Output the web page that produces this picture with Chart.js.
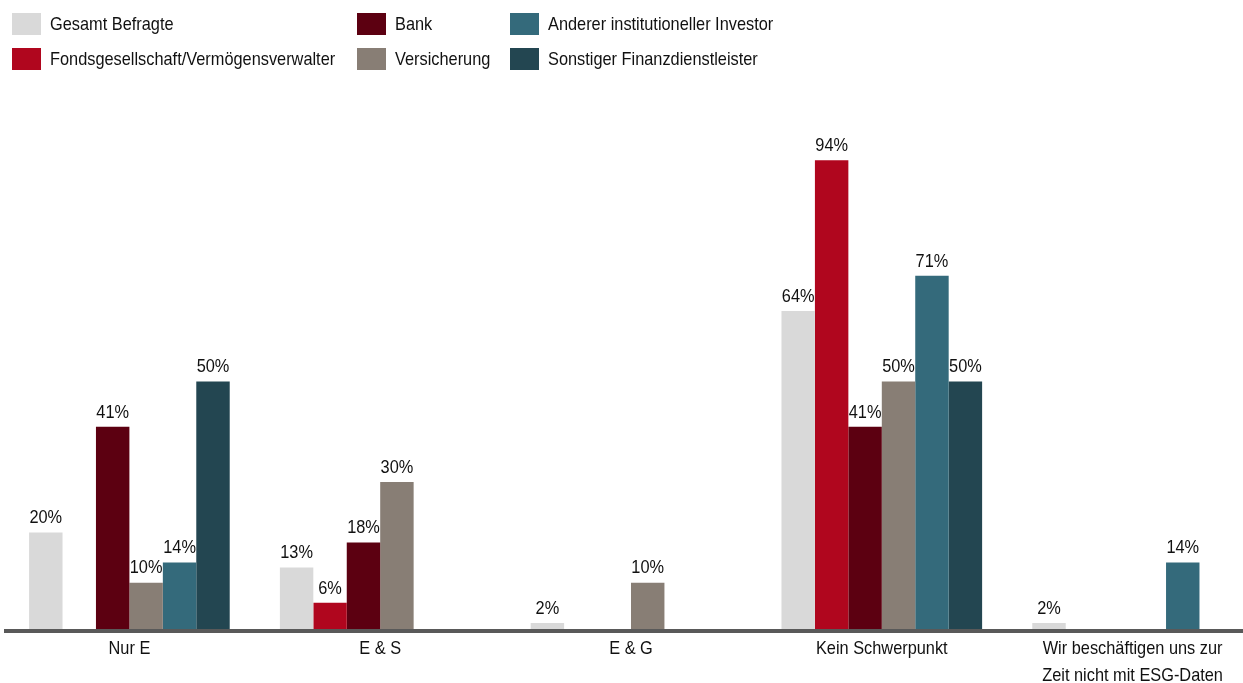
<!DOCTYPE html>
<html>
<head>
<meta charset="utf-8">
<script src="https://cdn.jsdelivr.net/npm/chart.js@4/dist/chart.umd.min.js"></script>
<style>
  html, body { margin: 0; padding: 0; background: #fff; overflow: hidden; width: 1243px; height: 683px; }
  #wrap { position: absolute; left: 0; top: 0; width: 1258px; height: 683px; }
  .legend { position: absolute; left: 0; top: 0; font-family: "Liberation Sans", Arial, sans-serif; font-size: 19px; color: #111; }
  .item { position: absolute; display: flex; align-items: center; white-space: nowrap; }
  .sw { width: 29px; height: 22px; margin-right: 9px; flex: none; }
  .item span { display: inline-block; transform: scaleX(0.86); transform-origin: left center; }
</style>
</head>
<body>
<div id="wrap"><canvas id="chart"></canvas></div>
<div class="legend" id="legend"></div>
<script>
// categories and series values (percent)
const categories = ["Nur E", "E & S", "E & G", "Kein Schwerpunkt", ["Wir beschäftigen uns zur", "Zeit nicht mit ESG-Daten"]];
const seriesNames = ["Gesamt Befragte", "Fondsgesellschaft/Vermögensverwalter", "Bank", "Versicherung", "Anderer institutioneller Investor", "Sonstiger Finanzdienstleister"];
const gesamt = [20, 13, 2, 64, 2];
const fonds = [null, 6, null, 94, null];
const bank = [41, 18, null, 41, null];
const versicherung = [10, 30, 10, 50, null];
const anderer = [14, null, null, 71, 14];
const sonstiger = [50, null, null, 50, null];
const colors = ["#d9d9d9", "#b0061e", "#5c0011", "#887e75", "#346a7b", "#234651"];

const FONT = '"Liberation Sans", Arial, sans-serif';
const SQUEEZE = 0.86; // the original uses a narrow Arial
const allValues = [gesamt, fonds, bank, versicherung, anderer, sonstiger];

// legend, column-major in three columns
const legendPos = [[12, 13], [12, 48], [357, 13], [357, 48], [510, 13], [510, 48]];
const legend = document.getElementById("legend");
seriesNames.forEach(function(name, i) {
    const item = document.createElement("div");
    item.className = "item";
    item.style.left = legendPos[i][0] + "px";
    item.style.top = legendPos[i][1] + "px";
    item.innerHTML = '<div class="sw" style="background:' + colors[i] + '"></div><span>' + name + '</span>';
    legend.appendChild(item);
});

function narrowText(ctx, text, x, y) {
    ctx.save();
    ctx.translate(x, y);
    ctx.scale(SQUEEZE, 1);
    ctx.fillText(text, 0, 0);
    ctx.restore();
}

// axis line over the bar feet, value labels and category labels
const textPlugin = {
    id: "textPlugin",
    afterDatasetsDraw(chart) {
        const ctx = chart.ctx;
        const xs = chart.scales.x;
        ctx.save();
        ctx.strokeStyle = "#595959";
        ctx.lineWidth = 4;
        ctx.beginPath();
        ctx.moveTo(chart.chartArea.left, xs.top - 2);
        ctx.lineTo(chart.chartArea.right, xs.top - 2);
        ctx.stroke();

        ctx.font = "19px " + FONT;
        ctx.fillStyle = "#111";
        ctx.textAlign = "center";
        ctx.textBaseline = "bottom";
        chart.data.datasets.forEach(function(ds, i) {
            chart.getDatasetMeta(i).data.forEach(function(bar, j) {
                const v = ds.data[j];
                if (v === null || v === undefined) return;
                narrowText(ctx, v + "%", bar.x, bar.y - 5);
            });
        });
        ctx.textBaseline = "middle";
        categories.forEach(function(c, i) {
            const lines = Array.isArray(c) ? c : [c];
            lines.forEach(function(line, k) {
                narrowText(ctx, line, xs.getPixelForValue(i), xs.top + 16 + k * 27);
            });
        });
        ctx.restore();
    }
};

new Chart(document.getElementById("chart"), {
    type: "bar",
    data: {
        labels: categories,
        datasets: seriesNames.map(function(name, i) {
            return { label: name, data: allValues[i], backgroundColor: colors[i], borderWidth: 0 };
        })
    },
    options: {
        responsive: true,
        maintainAspectRatio: false,
        animation: false,
        events: [],
        layout: { padding: { top: 130, left: 4, right: 0, bottom: 0 } },
        datasets: { bar: { categoryPercentage: 0.8, barPercentage: 1.0 } },
        plugins: { legend: { display: false }, tooltip: { enabled: false } },
        scales: {
            y: { display: false, min: 0, max: 100 },
            x: {
                grid: { display: false },
                border: { display: false },
                ticks: { display: false },
                afterFit: function(scale) { scale.height = 50; }
            }
        }
    },
    plugins: [textPlugin]
});
</script>
</body>
</html>
